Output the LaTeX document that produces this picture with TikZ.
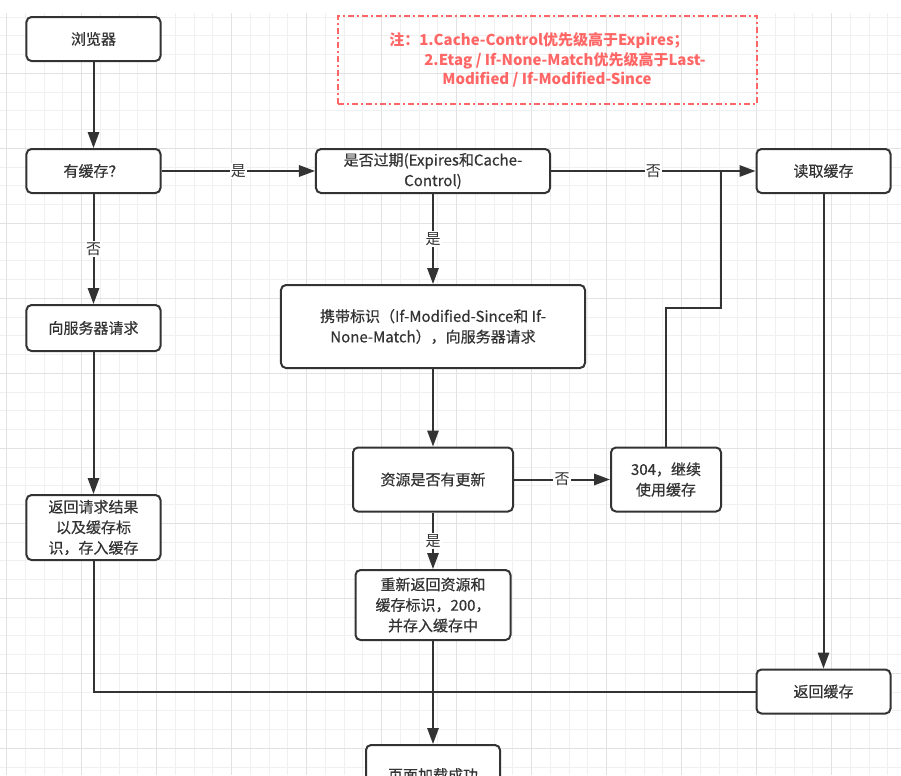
\documentclass[tikz,border=0pt]{standalone}
\usepackage{fontspec}
\setmainfont{Noto Sans CJK SC}
\newfontfamily\heavycjk[FakeBold=0.5]{Noto Sans CJK SC}
\usetikzlibrary{arrows.meta,positioning}
\definecolor{ink}{HTML}{333333}
\definecolor{notered}{HTML}{FF6666}
\definecolor{gridminor}{HTML}{F0F0F0}
\definecolor{gridmajor}{HTML}{E2E2E2}

\begin{document}
\begin{tikzpicture}[
  x=0.03cm, y=-0.03cm,
  box/.style={draw=ink, line width=0.06cm, rounded corners=0.15cm, fill=white, minimum width=4.02cm, minimum height=1.32cm, inner sep=0pt, align=center, text=ink, font=\fontsize{12.8pt}{17.5pt}\selectfont\heavycjk},
  notebox/.style={draw=notered, line width=0.045cm, dash pattern=on 0.18cm off 0.09cm on 0.06cm off 0.09cm, minimum width=12.57cm, minimum height=2.64cm, inner sep=0pt, align=left, text=notered, font=\fontsize{12.8pt}{16.6pt}\selectfont\bfseries},
  flow/.style={draw=ink, line width=0.06cm, -{Triangle[length=0.48cm, width=0.34cm]}},
  wire/.style={draw=ink, line width=0.06cm},
  tag/.style={fill=white, inner sep=1pt, text=ink, font=\fontsize{12.8pt}{15pt}\selectfont}
]
\clip (0,0) rectangle (901,775);
\fill[white] (0,0) rectangle (901,775);
% grid
\foreach \i in {0,...,47} \draw[gridminor, line width=0.03cm] ({6.7+18.75*\i},13) -- ({6.7+18.75*\i},775);
\foreach \j in {1,...,41} \draw[gridminor, line width=0.03cm] (0,{-1.7+18.75*\j}) -- (901,{-1.7+18.75*\j});
\foreach \i in {0,4,...,44} \draw[gridmajor, line width=0.03cm] ({6.7+18.75*\i},13) -- ({6.7+18.75*\i},775);
\foreach \j in {4,8,...,40} \draw[gridmajor, line width=0.03cm] (0,{-1.7+18.75*\j}) -- (901,{-1.7+18.75*\j});

% note
\node[notebox] (note) at (547.5,60) {注：1.Cache-Control优先级高于Expires；\\
  \hspace*{1.05cm}2.Etag / If-None-Match优先级高于Last-\\
  \hspace*{1.59cm}Modified / If-Modified-Since};

% boxes
\node[box] (browser) at (93.5,39) {浏览器};
\node[box] (hascache) at (93.5,171) {有缓存？};
\node[box, minimum width=7.02cm] (expired) at (433,171) {是否过期(Expires和Cache-\\Control)};
\node[box] (readcache) at (823.5,171) {读取缓存};
\node[box, minimum height=1.38cm] (request) at (93.5,328) {向服务器请求};
\node[box, minimum width=9.12cm, minimum height=2.49cm] (conditional) at (433,326.5) {携带标识（If-Modified-Since和 If-\\None-Match），向服务器请求};
\node[box, minimum width=4.8cm, minimum height=1.92cm] (updated) at (433,479.5) {资源是否有更新};
\node[box, minimum width=3.3cm, minimum height=1.92cm] (notmod) at (666,479.5) {304，继续\\使用缓存};
\node[box, minimum height=1.95cm] (result) at (93.5,527.5) {返回请求结果\\以及缓存标\\识，存入缓存};
\node[box, minimum width=4.65cm, minimum height=2.1cm] (fresh) at (433,605) {重新返回资源和\\缓存标识，200，\\并存入缓存中};
\node[box] (retcache) at (823.5,691.5) {返回缓存};
\node[box, minimum height=1.8cm] (loaded) at (433,775) {页面加载成功};

% connectors
\coordinate (bend) at (721,308);
\coordinate (merge) at (loaded.north |- retcache.west);
\draw[flow] (browser) -- (hascache);
\draw[flow] (hascache) -- node[tag] {是} (expired);
\draw[flow] (hascache) -- node[tag] {否} (request);
\draw[flow] (request) -- (result);
\draw[flow] (expired) -- node[tag] {否} (readcache);
\draw[flow] (expired) -- node[tag] {是} (conditional);
\draw[flow] (conditional) -- (updated);
\draw[flow] (updated) -- node[tag] {否} (notmod);
\draw[flow] (updated) -- node[tag] {是} (fresh);
\draw[wire] (notmod.north) |- (bend) -- (bend |- expired.east);
\draw[flow] (readcache) -- (retcache);
\draw[wire] (result.south) |- (merge);
\draw[wire] (retcache.west) -- (merge);
\draw[flow] (fresh) -- (loaded);
\end{tikzpicture}
\end{document}
